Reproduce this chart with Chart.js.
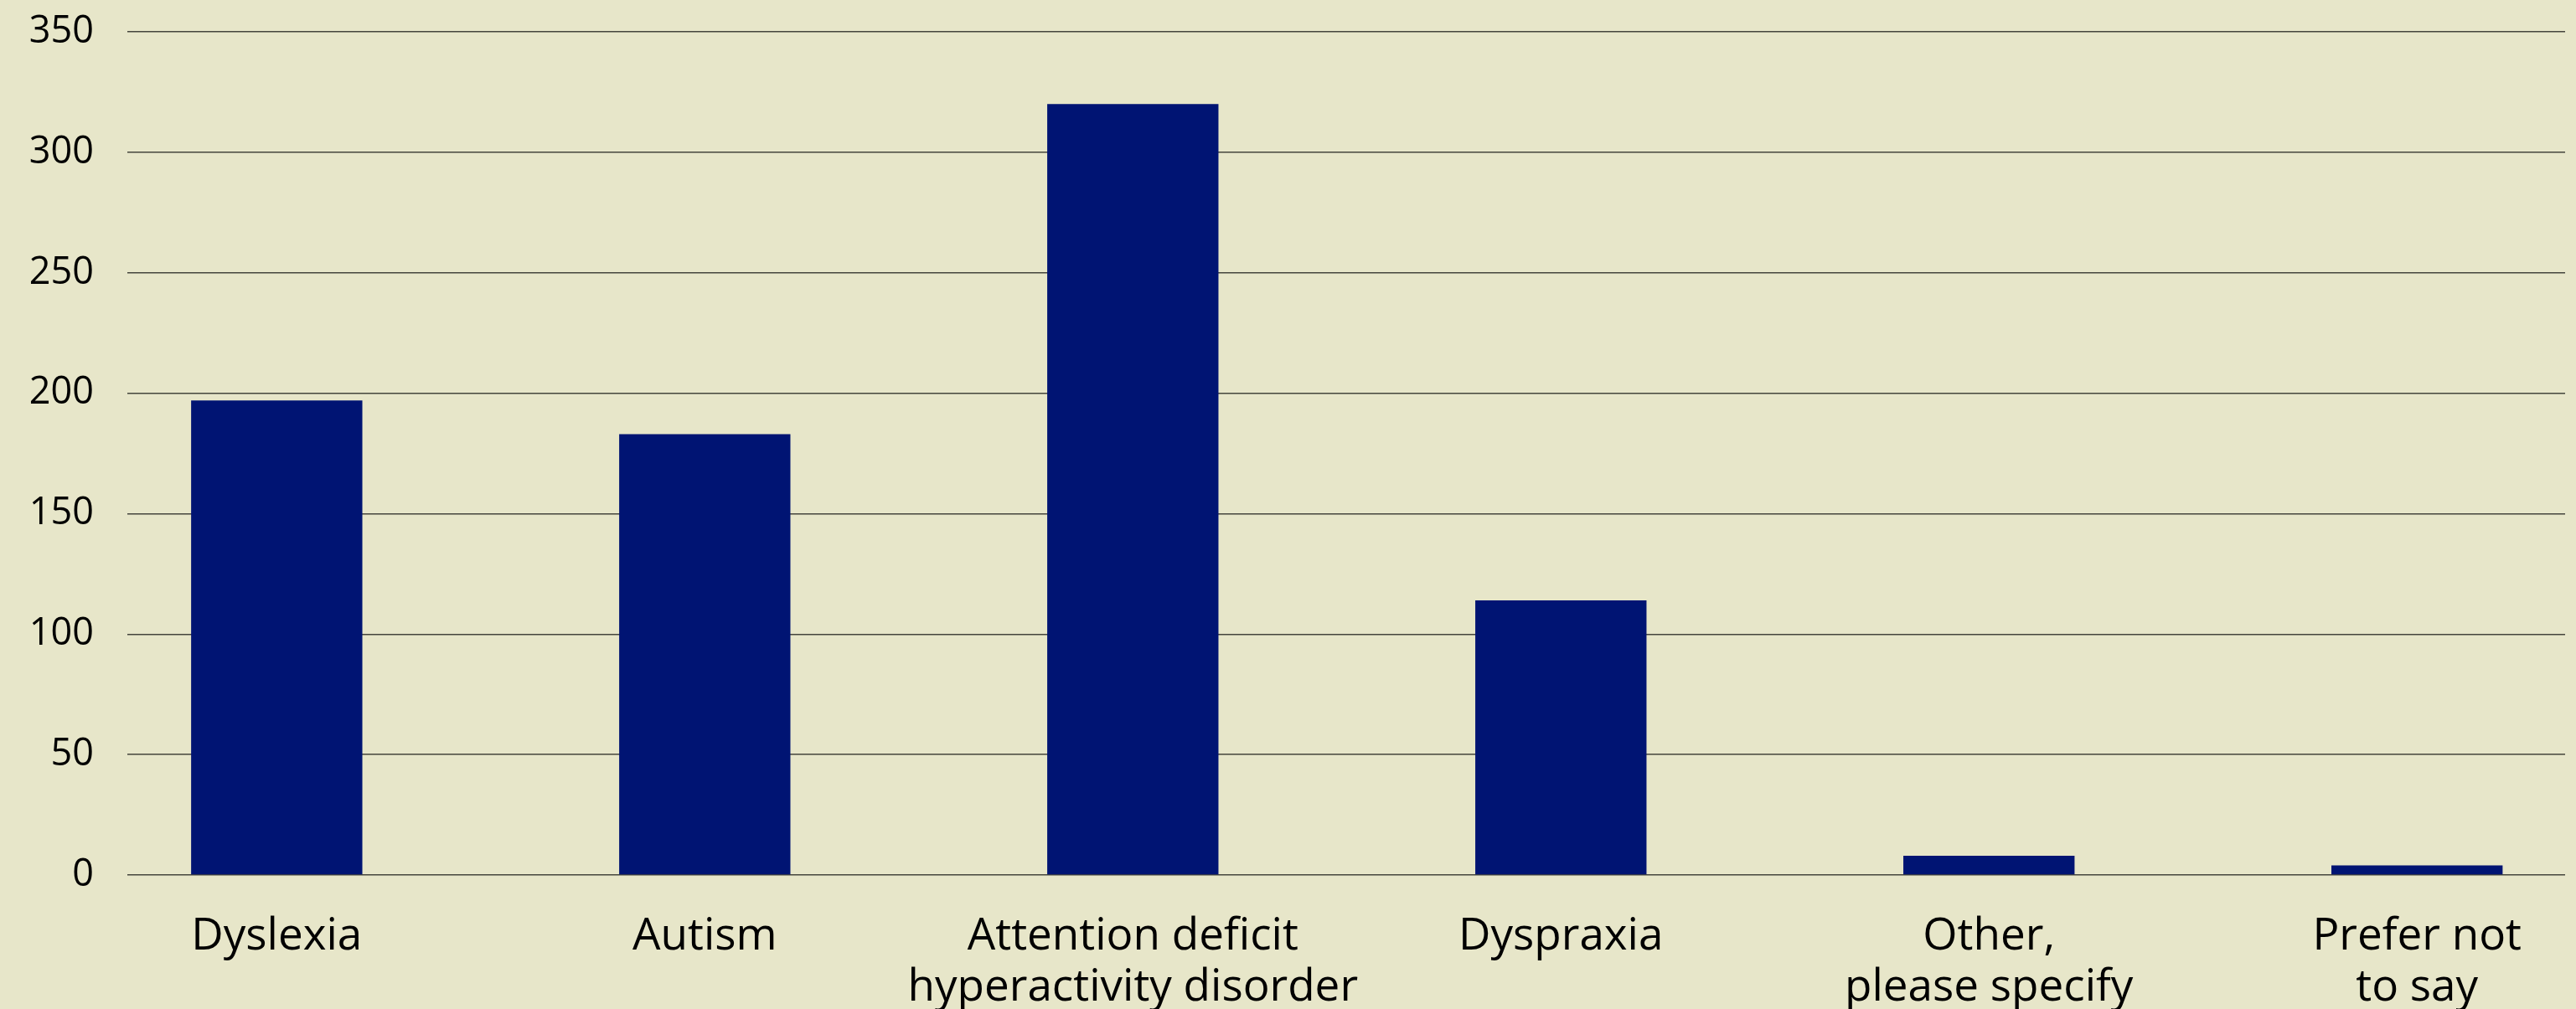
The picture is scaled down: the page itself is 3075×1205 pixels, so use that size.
<!DOCTYPE html>
<html>
<head>
<meta charset="utf-8">
<script src="https://cdn.jsdelivr.net/npm/chart.js@4/dist/chart.umd.min.js"></script>
<style>
  html, body { margin: 0; padding: 0; background: #e7e6c9; overflow: hidden; }
  canvas { display: block; }
</style>
</head>
<body>
<canvas id="c" width="3075" height="1205"></canvas>
<script>
const categories = [
  ["Dyslexia"],
  ["Autism"],
  ["Attention deficit", "hyperactivity disorder"],
  ["Dyspraxia"],
  ["Other,", "please specify"],
  ["Prefer not", "to say"]
];
const counts = [197, 183, 320, 114, 8, 4];
const yTicks = [0, 50, 100, 150, 200, 250, 300, 350];

const points = counts.map((v, i) => ({ x: i, y: v }));

new Chart(document.getElementById('c'), {
  type: 'bar',
  data: {
    datasets: [{
      data: points,
      backgroundColor: '#001473',
      borderWidth: 0,
      barPercentage: 0.4,
      categoryPercentage: 1.0
    }]
  },
  options: {
    responsive: false,
    animation: false,
    devicePixelRatio: 1,
    layout: { padding: { top: 38, right: 13, left: 0, bottom: 0 } },
    plugins: { legend: { display: false }, tooltip: { enabled: false } },
    scales: {
      x: {
        type: 'linear',
        offset: false,
        min: -0.349,
        max: 5.346,
        grid: { display: false, drawTicks: false },
        border: { display: false },
        afterBuildTicks: (scale) => { scale.ticks = categories.map((_, i) => ({ value: i })); },
        afterFit: (scale) => { scale.height = 160; scale.paddingLeft = 0; scale.paddingRight = 0; },
        ticks: {
          autoSkip: false,
          maxRotation: 0,
          minRotation: 0,
          padding: 43,
          color: '#000',
          font: { family: 'Open Sans', size: 53, lineHeight: 1.15 },
          callback: (value) => categories[value]
        }
      },
      y: {
        min: 0,
        max: 350,
        grid: { color: '#45453d', lineWidth: 1.5, drawTicks: false },
        border: { display: false },
        afterBuildTicks: (scale) => { scale.ticks = yTicks.map(v => ({ value: v })); },
        afterFit: (scale) => { scale.width = 152; scale.paddingTop = 0; scale.paddingBottom = 0; },
        ticks: {
          padding: 40,
          color: '#000',
          font: { family: 'Open Sans', size: 45 }
        }
      }
    }
  }
});
</script>
</body>
</html>
